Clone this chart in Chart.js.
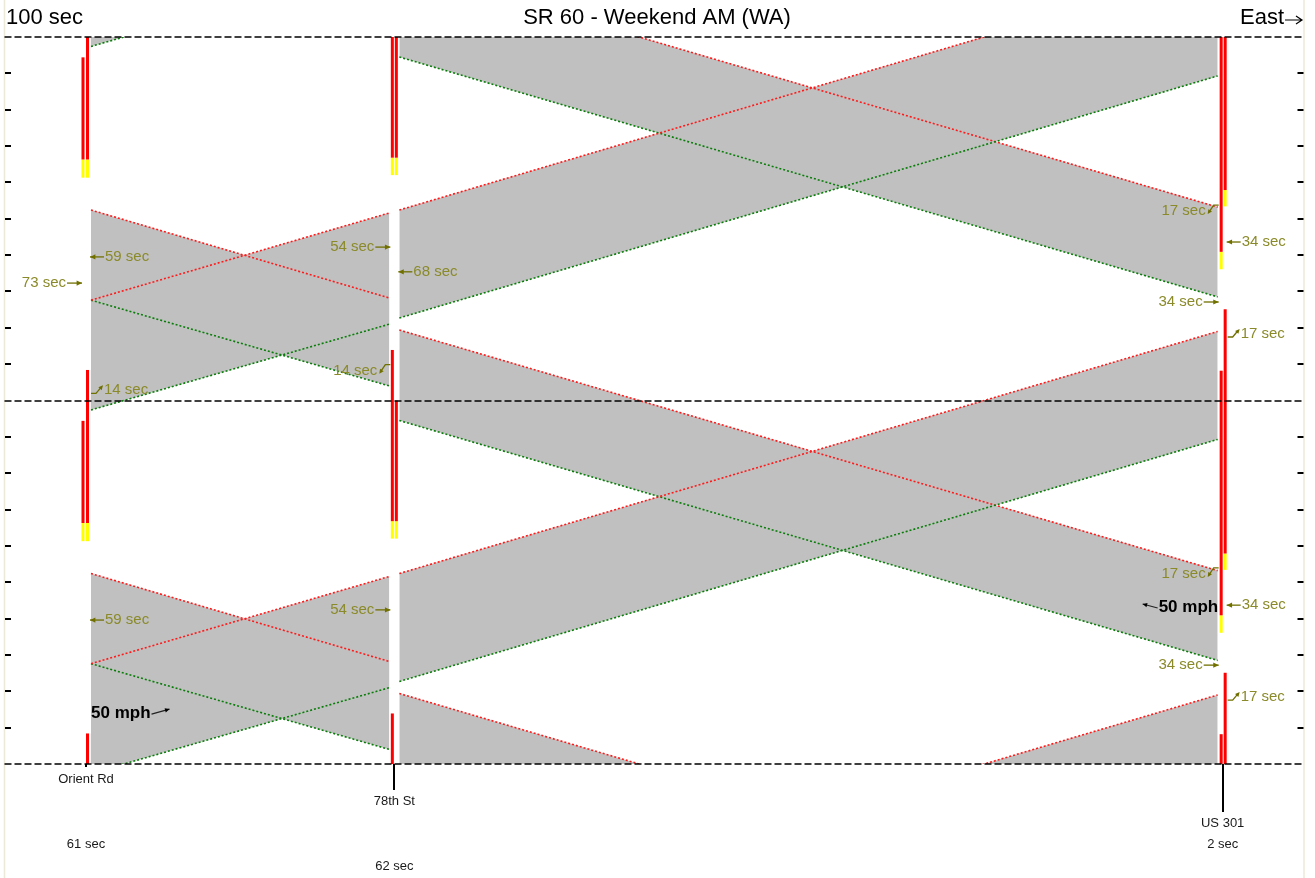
<!DOCTYPE html>
<html>
<head>
<meta charset="utf-8">
<title>SR 60 - Weekend AM (WA)</title>
<script src="https://cdn.jsdelivr.net/npm/chart.js@4.4.1/dist/chart.umd.min.js"></script>
<style>
  html, body { margin: 0; padding: 0; background: #ffffff; }
  canvas { display: block; }
</style>
</head>
<body>
<canvas id="tsd" width="1315" height="878"></canvas>
<script>
// ---- Corridor: intersections along SR 60 (distance in feet from Orient Rd) ----
const intersections = ['Orient Rd', '78th St', 'US 301'];
const distances = [0, 1850, 6820];
const offsetLabels = ['61 sec', '62 sec', '2 sec'];
const cycleLength = 100;
const cycleStarts = [-100, 0, 100, 200];
const timeRange = [0, 200];

// ---- Progression bands, one entry per link and direction (times in s, base cycle) ----
const bandFrom = [0, 0, 1, 1];
const bandTo = [1, 1, 2, 2];
const bandDirection = ['EB', 'WB', 'EB', 'WB'];
const bandTopStart = [27.6, 52.4, 52.4, 119.4];
const bandTopEnd = [51.6, 28.2, 119.0, 53.2];
const bandBottomStart = [-2.6, 27.6, 22.7, 94.5];
const bandBottomEnd = [21.0, 4.0, 89.3, 28.5];

// ---- Signal indications: two phases per intersection (yellow onset, red onset, red end) ----
const phaseYellow = [[61.3, 61.3], [62.0, 62.0], [36.1, 53.4]];
const phaseRedStart = [[66.3, 66.3], [66.8, 66.8], [40.9, 57.9]];
const phaseRedEnd = [[94.4, 108.4], [113.9, 100.0], [108.2, 125.1]];

// ---- Band annotations ----
const noteText = ['73 sec', '59 sec', '59 sec', '14 sec', '54 sec', '54 sec', '68 sec', '14 sec',
                  '17 sec', '17 sec', '34 sec', '34 sec', '34 sec', '34 sec', '17 sec', '17 sec'];
const noteNode = [0, 0, 0, 0, 1, 1, 1, 1, 2, 2, 2, 2, 2, 2, 2, 2];
const noteTime = [132.3, 139.5, 39.6, 102.8, 142.2, 42.4, 135.4, 108.2,
                  152.1, 52.3, 143.6, 43.7, 127.1, 27.2, 118.3, 18.4];
const noteMark = ['in', 'out', 'out', 'hookUp', 'in', 'in', 'out', 'hookDown',
                  'hookDown', 'hookDown', 'out', 'out', 'in', 'in', 'hookUp', 'hookUp'];

// ---- Speed labels ----
const speedText = ['50 mph', '50 mph'];
const speedNode = [0, 2];
const speedTime = [14.0, 43.2];
const speedDir = ['EB', 'WB'];

// ---- Presentation ----
const FONT = "'Liberation Sans', Arial, sans-serif";
const style = {
  xMin: -489, xMax: 7308,
  stopGapFt: 30,
  barOffsets: [[-3, 1.5], [-2, 2], [-1.5, 2.5]],
  nameRow: [0, 1, 2],
  offsetRow: [3, 4, 3],
  nodeTickLen: [3, 26, 48],
  bandFill: '#c0c0c0',
  topEdge: '#ff1a1a',
  bottomEdge: '#0a7d0a',
  olive: '#8a8a2a',
  oliveArrow: '#707000'
};

function bandDatasets() {
  const sets = [];
  bandFrom.forEach((from, i) => {
    const xs = distances[from] + style.stopGapFt;
    const xe = distances[bandTo[i]] - style.stopGapFt;
    cycleStarts.forEach(c => {
      sets.push({
        label: bandDirection[i] + ' top ' + c,
        data: [{ x: xs, y: bandTopStart[i] + c }, { x: xe, y: bandTopEnd[i] + c }],
        borderColor: style.topEdge, borderWidth: 1.6, borderDash: [2, 2],
        pointRadius: 0, fill: false, tension: 0
      });
      sets.push({
        label: bandDirection[i] + ' bottom ' + c,
        data: [{ x: xs, y: bandBottomStart[i] + c }, { x: xe, y: bandBottomEnd[i] + c }],
        borderColor: style.bottomEdge, borderWidth: 1.6, borderDash: [2, 2],
        backgroundColor: style.bandFill, pointRadius: 0, fill: '-1', tension: 0
      });
    });
  });
  return sets;
}

function axisLabel(i) {
  const rows = Math.max(...style.nameRow, ...style.offsetRow) + 1;
  const lines = new Array(rows).fill('');
  lines[style.nameRow[i]] = intersections[i];
  lines[style.offsetRow[i]] = offsetLabels[i];
  return lines;
}

function arrowHead(ctx, x1, y1, x2, y2, size) {
  const a = Math.atan2(y2 - y1, x2 - x1);
  ctx.beginPath();
  ctx.moveTo(x2, y2);
  ctx.lineTo(x2 - size * Math.cos(a - 0.45), y2 - size * Math.sin(a - 0.45));
  ctx.lineTo(x2 - size * Math.cos(a + 0.45), y2 - size * Math.sin(a + 0.45));
  ctx.closePath();
  ctx.fill();
}

function arrow(ctx, x1, y1, x2, y2, size) {
  ctx.beginPath();
  ctx.moveTo(x1, y1);
  ctx.lineTo(x2, y2);
  ctx.stroke();
  arrowHead(ctx, x1, y1, x2, y2, size);
}

function drawSignals(chart) {
  const { ctx, chartArea: a, scales: { x, y } } = chart;
  ctx.save();
  ctx.beginPath();
  ctx.rect(a.left, a.top, a.right - a.left, a.bottom - a.top);
  ctx.clip();
  const seg = (px, t0, t1, color) => {
    const yTop = y.getPixelForValue(t1), yBot = y.getPixelForValue(t0);
    ctx.fillStyle = color;
    ctx.fillRect(px - 1.5, yTop, 3, yBot - yTop);
  };
  distances.forEach((d, k) => {
    const cx = x.getPixelForValue(d);
    [0, 1].forEach(p => {
      const px = cx + style.barOffsets[k][p];
      cycleStarts.forEach(c => {
        seg(px, phaseYellow[k][p] + c, phaseRedStart[k][p] + c, '#ffff00');
        seg(px, phaseRedStart[k][p] + c, phaseRedEnd[k][p] + c, '#ff0000');
      });
    });
  });
  ctx.restore();
}

function drawCycleLines(chart) {
  const { ctx, chartArea: a, scales: { y } } = chart;
  ctx.save();
  ctx.strokeStyle = '#000000';
  ctx.lineWidth = 1.6;
  ctx.setLineDash([7, 3]);
  for (let t = timeRange[0]; t <= timeRange[1]; t += cycleLength) {
    const py = Math.round(y.getPixelForValue(t));
    ctx.beginPath();
    ctx.moveTo(a.left, py);
    ctx.lineTo(a.right, py);
    ctx.stroke();
  }
  ctx.restore();
}

function drawTimeTicks(chart) {
  const { ctx, chartArea: a, scales: { y } } = chart;
  let values = (y.ticks || []).map(t => t.value);
  if (!values.length) {
    values = [];
    for (let t = timeRange[0]; t <= timeRange[1]; t += 10) values.push(t);
  }
  ctx.save();
  ctx.fillStyle = '#000000';
  values.filter(v => v % cycleLength !== 0).forEach(v => {
    const py = Math.round(y.getPixelForValue(v));
    ctx.fillRect(a.left + 0.5, py - 1, 6, 2);
    ctx.fillRect(a.right - 6.5, py - 1, 6, 2);
  });
  ctx.restore();
}

function drawNotes(chart) {
  const { ctx, scales: { x, y } } = chart;
  ctx.save();
  ctx.font = '15px ' + FONT;
  ctx.textBaseline = 'middle';
  ctx.lineWidth = 1.3;
  noteText.forEach((txt, i) => {
    const cx = x.getPixelForValue(distances[noteNode[i]]);
    const py = y.getPixelForValue(noteTime[i]);
    const kind = noteMark[i];
    ctx.fillStyle = style.oliveArrow;
    ctx.strokeStyle = style.oliveArrow;
    let tx, align;
    if (kind === 'in') {
      const tip = cx - 4;
      arrow(ctx, tip - 15, py, tip, py, 6);
      tx = tip - 16; align = 'right';
    } else if (kind === 'out') {
      const tip = cx + 4;
      arrow(ctx, tip + 14, py, tip, py, 6);
      tx = tip + 15; align = 'left';
    } else if (kind === 'hookUp') {
      const x0 = cx + 5;
      ctx.beginPath();
      ctx.moveTo(x0, py + 3);
      ctx.lineTo(x0 + 5, py + 3);
      ctx.lineTo(x0 + 10, py - 3);
      ctx.stroke();
      arrowHead(ctx, x0 + 5, py + 3, x0 + 12, py - 5, 5);
      tx = x0 + 13; align = 'left';
    } else {
      const x0 = cx - 4;
      ctx.beginPath();
      ctx.moveTo(x0, py - 6);
      ctx.lineTo(x0 - 5, py - 6);
      ctx.lineTo(x0 - 9, py);
      ctx.stroke();
      arrowHead(ctx, x0 - 5, py - 6, x0 - 11, py + 3, 5);
      tx = x0 - 13; align = 'right';
    }
    ctx.fillStyle = style.olive;
    ctx.textAlign = align;
    ctx.fillText(txt, tx, py);
  });

  // speed labels along the bands
  ctx.font = 'bold 17px ' + FONT;
  ctx.fillStyle = '#000000';
  ctx.strokeStyle = '#222222';
  ctx.lineWidth = 1.1;
  speedText.forEach((txt, i) => {
    const cx = x.getPixelForValue(distances[speedNode[i]]);
    const py = y.getPixelForValue(speedTime[i]);
    if (speedDir[i] === 'EB') {
      const x0 = cx + 5;
      ctx.textAlign = 'left';
      ctx.fillText(txt, x0, py);
      const w = ctx.measureText(txt).width;
      arrow(ctx, x0 + w + 1, py + 1, x0 + w + 19, py - 4, 5);
    } else {
      const x0 = cx - 4.5;
      ctx.textAlign = 'right';
      ctx.fillText(txt, x0, py);
      const w = ctx.measureText(txt).width;
      arrow(ctx, x0 - w - 1, py + 1, x0 - w - 16, py - 3, 5);
    }
  });
  ctx.restore();
}

function drawNodeTicks(chart) {
  const { ctx, chartArea: a, scales: { x } } = chart;
  ctx.save();
  ctx.fillStyle = '#000000';
  distances.forEach((d, k) => {
    const px = Math.round(x.getPixelForValue(d));
    ctx.fillRect(px - 1, a.bottom, 2, style.nodeTickLen[k]);
  });
  ctx.restore();
}

function drawHeader(chart) {
  const { ctx } = chart;
  ctx.save();
  ctx.font = '22px ' + FONT;
  ctx.fillStyle = '#000000';
  ctx.strokeStyle = '#000000';
  ctx.lineWidth = 1.2;
  ctx.textBaseline = 'middle';
  ctx.textAlign = 'left';
  ctx.fillText(cycleLength + ' sec', 6, 18);
  ctx.textAlign = 'center';
  ctx.fillText('SR 60 - Weekend AM (WA)', 657, 18);
  ctx.textAlign = 'right';
  ctx.fillText('East', 1284, 18);
  // direction arrow after "East"
  ctx.beginPath();
  ctx.moveTo(1285, 20);
  ctx.lineTo(1302, 20);
  ctx.moveTo(1296, 16);
  ctx.lineTo(1302, 20);
  ctx.lineTo(1296, 24);
  ctx.stroke();
  ctx.restore();
}

const timeSpacePlugin = {
  id: 'timeSpace',
  beforeDraw(chart) {
    const { ctx, chartArea: a } = chart;
    ctx.save();
    ctx.fillStyle = '#ffffff';
    ctx.fillRect(0, 0, chart.width, chart.height);
    ctx.strokeStyle = '#ece9d8';
    ctx.lineWidth = 1.5;
    [a.left, a.right].forEach(px => {
      ctx.beginPath();
      ctx.moveTo(px, 0);
      ctx.lineTo(px, chart.height);
      ctx.stroke();
    });
    ctx.restore();
  },
  afterDatasetsDraw(chart) {
    drawSignals(chart);
    drawCycleLines(chart);
    drawTimeTicks(chart);
    drawNotes(chart);
  },
  afterDraw(chart) {
    drawNodeTicks(chart);
    drawHeader(chart);
  }
};

new Chart(document.getElementById('tsd'), {
  type: 'line',
  data: { datasets: bandDatasets() },
  options: {
    responsive: false,
    animation: false,
    events: [],
    layout: { padding: { left: 4.5, right: 11, top: 37, bottom: 0 } },
    plugins: {
      legend: { display: false },
      tooltip: { enabled: false },
      title: { display: false },
      filler: { drawTime: 'beforeDatasetsDraw' }
    },
    scales: {
      x: {
        type: 'linear',
        min: style.xMin,
        max: style.xMax,
        grid: { display: false, drawTicks: false },
        border: { display: false },
        afterBuildTicks: axis => { axis.ticks = distances.map(v => ({ value: v })); },
        afterFit: axis => { axis.height = 114; },
        ticks: {
          autoSkip: false, maxRotation: 0, minRotation: 0, padding: 5,
          color: '#1a1a1a',
          font: { family: FONT, size: 13, lineHeight: 1.66 },
          callback: (v, i) => axisLabel(i)
        }
      },
      y: {
        type: 'linear',
        min: timeRange[0],
        max: timeRange[1],
        display: false,
        ticks: { stepSize: 10 }
      }
    }
  },
  plugins: [timeSpacePlugin]
});
</script>
</body>
</html>
